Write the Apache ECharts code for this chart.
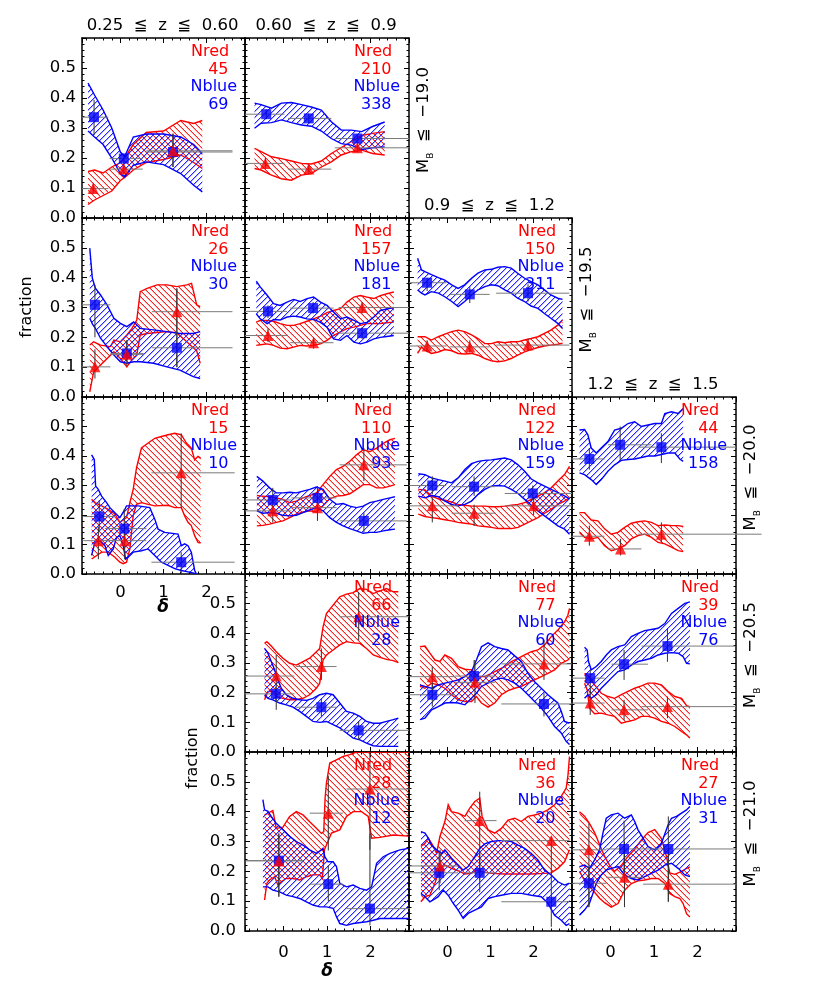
<!DOCTYPE html>
<html><head><meta charset="utf-8">
<script src="https://cdn.jsdelivr.net/npm/echarts@6/dist/echarts.min.js"></script>
<style>html,body{margin:0;padding:0;background:#fff}#c{width:817px;height:992px}</style>
</head><body><div id="c"></div>
<script>
// ---------------- labels ----------------
const zBinLabels = ['0.25  ≦  z  ≦  0.60', '0.60  ≦  z  ≦  0.9', '0.9  ≦  z  ≦  1.2', '1.2  ≦  z  ≦  1.5'];
const magLimits = ['−19.0', '−19.5', '−20.0', '−20.5', '−21.0'];
const panelRows = [0,0,1,1,1,2,2,2,2,3,3,3,4,4,4];
const panelCols = [0,1,0,1,2,0,1,2,3,1,2,3,1,2,3];
const nRed  = [45,210,26,157,150,15,110,122,44,66,77,39,28,36,27];
const nBlue = [69,338,30,181,311,10,93,159,158,28,60,76,12,20,31];

// points: [delta, fraction, binLo, binHi, errLo, errHi]
// ---------------- r0c0 ----------------
const r0c0X = [-0.75,-0.6,-0.4,-0.2,0.0,0.1,0.3,0.6,1.0,1.4,1.7,1.9];
const r0c0BlueHi = [0.45,0.41,0.36,0.30,0.22,0.205,0.27,0.28,0.28,0.27,0.245,0.215];
const r0c0BlueLo = [0.29,0.27,0.245,0.20,0.148,0.137,0.176,0.187,0.178,0.148,0.109,0.087];
const r0c0RedHi = [0.155,0.16,0.15,0.17,0.185,0.2,0.245,0.285,0.29,0.325,0.315,0.325];
const r0c0RedLo = [0.045,0.06,0.075,0.09,0.125,0.135,0.16,0.185,0.195,0.21,0.185,0.165];
const r0c0BluePts = [[-0.61,0.336,-0.89,-0.28,0.277,0.394],[0.08,0.198,-0.25,0.52,0.18,0.215],[1.22,0.22,0.6,2.6,0.17,0.282]];
const r0c0RedPts = [[-0.63,0.098,-0.89,-0.28,0.08,0.115],[0.08,0.163,-0.25,0.52,0.145,0.18],[1.22,0.224,0.6,2.6,0.17,0.28]];
// ---------------- r0c1 ----------------
const r0c1X = [-0.67,-0.52,-0.28,-0.05,0.18,0.41,0.64,0.87,1.1,1.33,1.56,1.8,2.05,2.33];
const r0c1BlueHi = [0.383,0.378,0.366,0.383,0.385,0.378,0.37,0.36,0.321,0.293,0.293,0.288,0.305,0.32];
const r0c1BlueLo = [0.299,0.316,0.318,0.327,0.318,0.31,0.306,0.29,0.265,0.248,0.243,0.228,0.234,0.237];
const r0c1RedHi = [0.232,0.221,0.204,0.198,0.19,0.182,0.18,0.19,0.215,0.235,0.255,0.275,0.282,0.288];
const r0c1RedLo = [0.165,0.16,0.143,0.131,0.126,0.143,0.148,0.17,0.187,0.21,0.221,0.226,0.215,0.21];
const r0c1BluePts = [[-0.4,0.346,-0.89,0.02,0.33,0.362],[0.58,0.332,0.1,1.1,0.316,0.348],[1.7,0.265,1.18,2.89,0.25,0.28]];
const r0c1RedPts = [[-0.42,0.182,-0.89,0.02,0.165,0.2],[0.58,0.163,0.1,1.1,0.148,0.178],[1.7,0.234,1.18,2.89,0.218,0.25]];
// ---------------- r1c0 ----------------
const r1c0BlueX = [-0.71,-0.65,-0.58,-0.46,-0.31,-0.15,0,0.15,0.31,0.46,0.77,1.08,1.38,1.69,1.85];
const r1c0BlueHi = [0.499,0.398,0.365,0.342,0.309,0.264,0.247,0.236,0.252,0.23,0.225,0.219,0.213,0.213,0.219];
const r1c0BlueLo = [0.264,0.245,0.23,0.197,0.169,0.141,0.118,0.113,0.118,0.118,0.113,0.101,0.09,0.068,0.062];
const r1c0RedX = [-0.71,-0.62,-0.46,-0.23,-0.15,0,0.15,0.27,0.38,0.46,0.62,0.85,1.08,1.31,1.54,1.65,1.77,1.85];
const r1c0RedHi = [0.174,0.185,0.174,0.169,0.191,0.185,0.208,0.23,0.258,0.353,0.364,0.376,0.376,0.37,0.376,0.381,0.309,0.303];
const r1c0RedLo = [0.017,0.084,0.107,0.14,0.152,0.129,0.101,0.125,0.141,0.208,0.213,0.216,0.219,0.215,0.185,0.17,0.155,0.113];
const r1c0BluePts = [[-0.59,0.309,-0.89,-0.23,0.2,0.375],[0.15,0.146,-0.23,0.54,0.12,0.19],[1.31,0.165,0.73,2.6,0.1,0.364]];
const r1c0RedPts = [[-0.59,0.101,-0.89,-0.23,0.062,0.16],[0.15,0.143,-0.23,0.54,0.105,0.19],[1.31,0.286,0.73,2.6,0.1,0.364]];
// ---------------- r1c1 ----------------
const r1c1X = [-0.63,-0.54,-0.38,-0.23,-0.08,0.08,0.23,0.38,0.54,0.69,0.85,1.0,1.15,1.31,1.46,1.62,1.77,1.92,2.08,2.23,2.38,2.54];
const r1c1BlueHi = [0.388,0.369,0.341,0.313,0.307,0.318,0.327,0.32,0.33,0.335,0.318,0.307,0.285,0.262,0.268,0.257,0.246,0.25,0.268,0.29,0.295,0.3];
const r1c1BlueLo = [0.279,0.262,0.246,0.26,0.258,0.268,0.271,0.268,0.262,0.26,0.25,0.234,0.195,0.19,0.206,0.184,0.178,0.184,0.195,0.2,0.203,0.206];
const r1c1RedHi = [0.251,0.257,0.257,0.254,0.246,0.24,0.24,0.246,0.254,0.262,0.271,0.283,0.29,0.296,0.318,0.335,0.34,0.335,0.33,0.34,0.346,0.352];
const r1c1RedLo = [0.173,0.175,0.178,0.173,0.164,0.162,0.167,0.173,0.171,0.173,0.178,0.19,0.206,0.218,0.229,0.234,0.24,0.246,0.246,0.246,0.249,0.251];
const r1c1BluePts = [[-0.36,0.287,-0.89,0.08,0.265,0.307],[0.68,0.298,0.15,1.15,0.28,0.318],[1.81,0.214,1.27,2.89,0.195,0.235]];
const r1c1RedPts = [[-0.36,0.206,-0.89,0.08,0.184,0.23],[0.69,0.182,0.15,1.15,0.162,0.2],[1.81,0.3,1.27,2.89,0.28,0.318]];
// ---------------- r1c2 ----------------
const r1c2X = [-0.69,-0.6,-0.52,-0.37,-0.21,-0.06,0.1,0.25,0.4,0.56,0.71,0.87,1.02,1.17,1.33,1.48,1.63,1.79,1.94,2.1,2.25,2.4,2.56,2.67];
const r1c2BlueHi = [0.465,0.426,0.42,0.41,0.4,0.392,0.376,0.364,0.376,0.398,0.415,0.426,0.428,0.435,0.437,0.432,0.415,0.398,0.387,0.376,0.359,0.342,0.331,0.327];
const r1c2BlueLo = [0.359,0.348,0.342,0.353,0.348,0.336,0.32,0.303,0.32,0.342,0.359,0.37,0.376,0.373,0.359,0.348,0.331,0.32,0.305,0.297,0.28,0.264,0.247,0.23];
const r1c2RedHi = [0.202,0.202,0.202,0.191,0.202,0.211,0.219,0.224,0.219,0.208,0.196,0.179,0.179,0.185,0.182,0.185,0.185,0.191,0.196,0.202,0.213,0.224,0.241,0.258];
const r1c2RedLo = [0.146,0.168,0.157,0.146,0.151,0.159,0.155,0.146,0.144,0.146,0.14,0.129,0.121,0.118,0.121,0.129,0.14,0.151,0.159,0.166,0.171,0.174,0.177,0.18];
const r1c2BluePts = [[-0.47,0.383,-0.89,-0.02,0.355,0.4],[0.52,0.344,0.06,0.98,0.315,0.37],[1.87,0.348,1.13,2.83,0.32,0.378]];
const r1c2RedPts = [[-0.47,0.171,-0.89,-0.02,0.15,0.19],[0.52,0.168,0.06,0.98,0.15,0.19],[1.87,0.174,1.13,2.83,0.155,0.195]];
// ---------------- r2c0 ----------------
const r2c0BlueHiX = [-0.667,-0.605,-0.574,-0.513,-0.435,-0.32,-0.243,-0.127,-0.012,0.104,0.143,0.412,0.682,0.798,0.875,1.029,1.337,1.414,1.491,1.568,1.645,1.723,1.761];
const r2c0BlueHi = [0.404,0.388,0.298,0.287,0.264,0.242,0.225,0.208,0.191,0.219,0.231,0.231,0.225,0.186,0.152,0.141,0.135,0.096,0.102,0.096,0.074,0.012,0.001];
const r2c0BlueLoX = [-0.667,-0.59,-0.474,-0.358,-0.281,-0.166,-0.089,-0.012,0.066,0.119,0.181,0.297,0.489,0.644,0.798,0.952,1.106,1.26,1.414,1.568,1.761];
const r2c0BlueLo = [0.063,0.107,0.113,0.096,0.063,0.085,0.124,0.13,0.096,0.051,0.057,0.074,0.079,0.085,0.063,0.04,0.029,0.018,0.012,0.007,0.001];
const r2c0RedHiX = [-0.667,-0.59,-0.435,-0.281,-0.127,-0.012,0.066,0.143,0.22,0.297,0.374,0.489,0.644,0.798,0.952,1.106,1.26,1.414,1.53,1.645,1.723,1.8,1.861];
const r2c0RedHi = [0.253,0.242,0.231,0.219,0.203,0.175,0.183,0.191,0.242,0.287,0.36,0.427,0.444,0.46,0.466,0.472,0.477,0.472,0.444,0.427,0.387,0.399,0.393];
const r2c0RedLoX = [-0.667,-0.435,-0.281,-0.127,-0.012,0.066,0.143,0.22,0.297,0.374,0.489,0.644,0.798,1.106,1.26,1.414,1.491,1.568,1.645,1.723,1.8,1.861];
const r2c0RedLo = [0.051,0.074,0.074,0.057,0.04,0.035,0.04,0.085,0.197,0.236,0.242,0.236,0.231,0.233,0.225,0.225,0.197,0.175,0.164,0.13,0.107,0.105];
const r2c0BluePts = [[-0.49,0.195,-0.86,-0.13,0.15,0.25],[0.09,0.154,-0.36,0.6,0.12,0.22],[1.41,0.04,0.72,2.65,0.0,0.074]];
const r2c0RedPts = [[-0.51,0.113,-0.86,-0.13,0.05,0.16],[0.1,0.113,-0.36,0.6,0.05,0.17],[1.41,0.343,0.72,2.65,0.225,0.477]];
// ---------------- r2c1 ----------------
const r2c1X = [-0.617,-0.478,-0.324,-0.17,-0.015,0.139,0.293,0.447,0.601,0.755,0.909,1.064,1.218,1.372,1.526,1.68,1.834,1.988,2.143,2.297,2.451,2.566];
const r2c1BlueHi = [0.331,0.315,0.292,0.275,0.275,0.277,0.275,0.281,0.287,0.295,0.287,0.253,0.236,0.239,0.23,0.225,0.23,0.242,0.247,0.253,0.258,0.262];
const r2c1BlueLo = [0.214,0.206,0.208,0.206,0.199,0.197,0.199,0.208,0.217,0.225,0.214,0.191,0.175,0.163,0.154,0.146,0.138,0.141,0.141,0.146,0.15,0.152];
const r2c1RedHi = [0.266,0.264,0.262,0.258,0.253,0.242,0.247,0.258,0.266,0.275,0.303,0.331,0.354,0.365,0.382,0.404,0.421,0.415,0.427,0.443,0.455,0.46];
const r2c1RedLo = [0.163,0.165,0.169,0.175,0.18,0.191,0.203,0.21,0.214,0.21,0.231,0.255,0.264,0.266,0.272,0.287,0.303,0.303,0.292,0.292,0.298,0.303];
const r2c1BluePts = [[-0.25,0.251,-0.89,0.18,0.225,0.292],[0.78,0.258,0.18,1.22,0.235,0.298],[1.85,0.18,1.29,2.84,0.141,0.208]];
const r2c1RedPts = [[-0.25,0.214,-0.89,0.18,0.175,0.235],[0.78,0.225,0.18,1.22,0.18,0.245],[1.85,0.37,1.29,2.84,0.315,0.427]];
// ---------------- r2c2 ----------------
const r2c2X = [-0.674,-0.52,-0.366,-0.212,-0.058,0.096,0.25,0.405,0.559,0.713,0.867,1.021,1.175,1.329,1.484,1.638,1.792,1.946,2.1,2.254,2.408,2.563,2.717,2.832];
const r2c2BlueHi = [0.34,0.337,0.326,0.32,0.315,0.309,0.326,0.354,0.374,0.382,0.385,0.387,0.39,0.393,0.387,0.37,0.348,0.322,0.309,0.298,0.287,0.276,0.265,0.255];
const r2c2BlueLo = [0.264,0.258,0.266,0.262,0.247,0.236,0.231,0.236,0.247,0.27,0.287,0.298,0.3,0.298,0.287,0.273,0.253,0.233,0.214,0.197,0.18,0.163,0.152,0.135];
const r2c2RedHi = [0.287,0.285,0.264,0.255,0.25,0.244,0.236,0.233,0.23,0.23,0.23,0.228,0.228,0.23,0.233,0.236,0.242,0.253,0.264,0.276,0.292,0.315,0.337,0.365];
const r2c2RedLo = [0.203,0.195,0.191,0.188,0.184,0.18,0.175,0.172,0.169,0.163,0.161,0.158,0.154,0.154,0.154,0.158,0.169,0.18,0.191,0.206,0.219,0.236,0.247,0.258];
const r2c2BluePts = [[-0.35,0.3,-0.89,-0.03,0.27,0.331],[0.62,0.296,0.1,1.1,0.265,0.331],[1.98,0.273,1.33,2.89,0.25,0.3]];
const r2c2RedPts = [[-0.35,0.231,-0.89,0.25,0.175,0.26],[0.62,0.206,0.1,1.1,0.163,0.235],[2.0,0.231,1.33,2.89,0.2,0.26]];
// ---------------- r2c3 ----------------
const r2c3BlueHiX = [-0.717,-0.601,-0.524,-0.447,-0.331,-0.216,-0.062,0.092,0.247,0.401,0.555,0.709,0.863,1.017,1.171,1.249,1.403,1.557,1.672];
const r2c3BlueHi = [0.488,0.49,0.472,0.427,0.41,0.427,0.449,0.488,0.494,0.51,0.516,0.5,0.505,0.51,0.51,0.544,0.55,0.544,0.561];
const r2c3BlueLoX = [-0.717,-0.601,-0.447,-0.331,-0.216,-0.062,0.092,0.247,0.401,0.555,0.709,0.863,1.017,1.171,1.326,1.48,1.595,1.672];
const r2c3BlueLo = [0.343,0.337,0.32,0.303,0.32,0.348,0.37,0.385,0.388,0.39,0.395,0.4,0.4,0.405,0.41,0.41,0.39,0.382];
const r2c3RedX = [-0.717,-0.601,-0.447,-0.293,-0.139,0.015,0.17,0.324,0.478,0.632,0.786,0.94,1.094,1.249,1.403,1.557,1.672];
const r2c3RedHi = [0.208,0.208,0.183,0.18,0.153,0.135,0.141,0.158,0.172,0.177,0.18,0.175,0.164,0.166,0.164,0.164,0.161];
const r2c3RedLo = [0.141,0.124,0.119,0.124,0.096,0.079,0.085,0.096,0.119,0.13,0.135,0.124,0.107,0.102,0.091,0.079,0.076];
const r2c3BluePts = [[-0.49,0.39,-0.9,-0.14,0.354,0.427],[0.22,0.438,-0.06,0.94,0.387,0.5],[1.17,0.43,0.63,2.89,0.376,0.477]];
const r2c3RedPts = [[-0.49,0.128,-0.9,-0.14,0.096,0.164],[0.23,0.085,-0.06,0.71,0.063,0.119],[1.17,0.135,0.63,3.48,0.107,0.175]];
// ---------------- r3c1 ----------------
const r3c1BlueHiX = [-0.439,-0.362,-0.285,-0.208,-0.131,-0.054,0.062,0.216,0.37,0.524,0.678,0.832,0.987,1.141,1.295,1.449,1.603,1.757,1.911,2.066,2.22,2.374,2.528,2.644];
const r3c1BlueHi = [0.349,0.333,0.305,0.277,0.243,0.215,0.193,0.181,0.176,0.174,0.181,0.193,0.198,0.193,0.165,0.137,0.131,0.12,0.103,0.097,0.097,0.103,0.109,0.114];
const r3c1BlueLoX = [-0.439,-0.362,-0.247,-0.092,0.062,0.216,0.37,0.524,0.678,0.832,0.987,1.141,1.295,1.449,1.603,1.757,1.911,2.066,2.22,2.644];
const r3c1BlueLo = [0.193,0.181,0.176,0.165,0.159,0.151,0.137,0.12,0.103,0.1,0.103,0.092,0.081,0.064,0.047,0.041,0.03,0.021,0.019,0.019];
const r3c1RedHiX = [-0.439,-0.385,-0.285,-0.17,-0.015,0.139,0.293,0.447,0.601,0.755,0.832,0.909,0.987,1.141,1.295,1.449,1.603,1.757,1.911,2.066,2.22,2.374,2.528,2.644];
const r3c1RedHi = [0.366,0.372,0.357,0.338,0.316,0.299,0.293,0.305,0.316,0.338,0.349,0.422,0.467,0.495,0.523,0.532,0.537,0.551,0.548,0.534,0.543,0.551,0.54,0.54];
const r3c1RedLoX = [-0.439,-0.362,-0.247,-0.17,-0.015,0.139,0.293,0.447,0.601,0.755,0.832,0.909,0.987,1.141,1.295,1.449,1.603,1.757,1.911,2.066,2.22,2.374,2.528,2.644];
const r3c1RedLo = [0.176,0.204,0.204,0.187,0.181,0.176,0.176,0.181,0.193,0.215,0.232,0.31,0.327,0.344,0.361,0.372,0.368,0.366,0.349,0.327,0.319,0.312,0.308,0.301];
const r3c1BluePts = [[-0.18,0.196,-0.9,0.25,0.17,0.22],[0.87,0.151,0.29,1.22,0.12,0.181],[1.73,0.073,1.29,2.89,0.041,0.103]];
const r3c1RedPts = [[-0.17,0.256,-0.9,0.25,0.142,0.327],[0.87,0.288,0.29,1.22,0.243,0.349],[1.73,0.456,1.29,2.89,0.377,0.54]];
// ---------------- r3c2 ----------------
const r3c2BlueHiX = [-0.636,-0.52,-0.366,-0.212,-0.058,0.096,0.25,0.405,0.559,0.674,0.79,0.944,1.098,1.252,1.407,1.561,1.715,1.869,2.023,2.177,2.331,2.486,2.563,2.64,2.717,2.832];
const r3c2BlueHi = [0.226,0.221,0.215,0.226,0.232,0.237,0.243,0.254,0.271,0.31,0.355,0.368,0.355,0.349,0.344,0.324,0.305,0.265,0.237,0.215,0.193,0.174,0.165,0.137,0.103,0.097];
const r3c2BlueLoX = [-0.636,-0.52,-0.366,-0.212,-0.058,0.096,0.25,0.405,0.559,0.674,0.79,0.944,1.098,1.252,1.407,1.561,1.715,1.869,2.023,2.177,2.331,2.486,2.64,2.755,2.832];
const r3c2BlueLo = [0.109,0.114,0.142,0.153,0.165,0.167,0.165,0.159,0.181,0.198,0.221,0.232,0.243,0.249,0.243,0.232,0.215,0.193,0.17,0.148,0.12,0.086,0.064,0.036,0.025];
const r3c2RedHiX = [-0.636,-0.52,-0.405,-0.289,-0.173,-0.058,0.096,0.25,0.405,0.559,0.713,0.867,1.021,1.175,1.329,1.484,1.638,1.792,1.946,2.1,2.254,2.408,2.563,2.717,2.794,2.832];
const r3c2RedHi = [0.355,0.357,0.333,0.31,0.305,0.327,0.316,0.288,0.279,0.277,0.254,0.254,0.265,0.277,0.288,0.305,0.316,0.327,0.338,0.344,0.361,0.389,0.411,0.439,0.461,0.484];
const r3c2RedLoX = [-0.636,-0.52,-0.366,-0.212,-0.058,0.096,0.25,0.405,0.559,0.674,0.79,0.944,1.098,1.252,1.407,1.561,1.715,1.869,2.023,2.177,2.331,2.486,2.64,2.794,2.832];
const r3c2RedLo = [0.221,0.215,0.232,0.226,0.215,0.193,0.176,0.17,0.17,0.187,0.165,0.151,0.165,0.193,0.207,0.215,0.221,0.232,0.243,0.254,0.265,0.277,0.299,0.31,0.316];
const r3c2BluePts = [[-0.35,0.193,-0.9,0.18,0.153,0.23],[0.62,0.256,0.18,1.1,0.22,0.31],[2.24,0.162,1.25,2.89,0.12,0.198]];
const r3c2RedPts = [[-0.35,0.254,-0.9,0.18,0.2,0.288],[0.64,0.235,0.18,1.1,0.165,0.31],[2.24,0.297,1.25,2.89,0.243,0.377]];
// ---------------- r3c3 ----------------
const r3c3BlueHiX = [-0.601,-0.54,-0.509,-0.447,-0.331,-0.216,-0.1,0.015,0.17,0.324,0.478,0.632,0.786,0.94,1.094,1.249,1.403,1.557,1.711,1.827];
const r3c3BlueHi = [0.353,0.344,0.305,0.277,0.288,0.305,0.327,0.344,0.355,0.361,0.389,0.4,0.409,0.413,0.417,0.433,0.467,0.484,0.501,0.506];
const r3c3BlueLoX = [-0.601,-0.524,-0.447,-0.331,-0.216,-0.1,0.015,0.17,0.324,0.478,0.632,0.786,0.94,1.094,1.249,1.403,1.557,1.672,1.75,1.827];
const r3c3BlueLo = [0.181,0.193,0.181,0.193,0.215,0.232,0.249,0.271,0.277,0.293,0.305,0.31,0.316,0.327,0.333,0.335,0.333,0.321,0.299,0.297];
const r3c3RedHiX = [-0.601,-0.486,-0.37,-0.216,-0.062,0.092,0.247,0.401,0.555,0.709,0.863,1.017,1.171,1.326,1.48,1.634,1.75,1.827];
const r3c3RedHi = [0.265,0.254,0.226,0.198,0.187,0.181,0.193,0.204,0.215,0.223,0.232,0.232,0.226,0.204,0.187,0.181,0.156,0.153];
const r3c3RedLoX = [-0.601,-0.54,-0.486,-0.37,-0.216,-0.062,0.092,0.247,0.401,0.555,0.709,0.863,1.017,1.171,1.326,1.48,1.634,1.75,1.827];
const r3c3RedLo = [0.232,0.209,0.148,0.129,0.131,0.125,0.12,0.097,0.103,0.108,0.12,0.12,0.114,0.103,0.097,0.086,0.069,0.058,0.047];
const r3c3BluePts = [[-0.47,0.249,-0.9,-0.14,0.198,0.276],[0.31,0.296,0.02,0.86,0.243,0.344],[1.31,0.357,0.71,2.87,0.304,0.417]];
const r3c3RedPts = [[-0.47,0.165,-0.9,-0.14,0.125,0.21],[0.31,0.142,0.02,0.86,0.108,0.176],[1.31,0.153,0.71,2.89,0.114,0.187]];
// ---------------- r4c1 ----------------
const r4c1BlueHiX = [-0.478,-0.439,-0.362,-0.285,-0.17,-0.015,0.139,0.293,0.447,0.601,0.755,0.871,0.909,0.948,1.025,1.141,1.218,1.295,1.449,1.603,1.757,1.911,2.027,2.143,2.297,2.451,2.682,2.875];
const r4c1BlueHi = [0.44,0.406,0.401,0.384,0.361,0.339,0.317,0.3,0.288,0.272,0.26,0.272,0.277,0.249,0.232,0.232,0.216,0.16,0.148,0.154,0.143,0.137,0.148,0.227,0.249,0.26,0.272,0.277];
const r4c1BlueLoX = [-0.478,-0.362,-0.247,-0.092,0.062,0.216,0.37,0.524,0.678,0.832,0.987,1.141,1.218,1.295,1.449,1.603,1.911,2.066,2.22,2.875];
const r4c1BlueLo = [0.148,0.148,0.137,0.131,0.12,0.115,0.109,0.098,0.087,0.081,0.081,0.076,0.048,0.025,0.019,0.025,0.031,0.036,0.042,0.042];
const r4c1RedHiX = [-0.439,-0.362,-0.247,-0.17,-0.015,0.139,0.293,0.447,0.601,0.755,0.871,0.925,0.956,0.987,1.064,1.218,1.372,1.526,1.68,2.89];
const r4c1RedHi = [0.389,0.395,0.404,0.344,0.348,0.384,0.4,0.389,0.366,0.344,0.327,0.333,0.445,0.496,0.563,0.574,0.585,0.591,0.6,0.6];
const r4c1RedLoX = [-0.439,-0.385,-0.324,-0.208,-0.131,-0.054,0.062,0.216,0.37,0.524,0.678,0.832,0.894,0.94,1.102,1.295,1.449,1.603,1.796,1.95,2.027,2.22,2.528,2.875];
const r4c1RedLo = [0.104,0.16,0.171,0.182,0.154,0.165,0.176,0.176,0.171,0.182,0.188,0.188,0.176,0.272,0.328,0.339,0.384,0.4,0.4,0.384,0.311,0.314,0.322,0.318];
const r4c1BluePts = [[-0.11,0.236,-0.86,0.45,0.115,0.327],[1.03,0.157,0.6,1.37,0.1,0.22],[1.99,0.075,1.45,2.91,0.019,0.327]];
const r4c1RedPts = [[-0.11,0.235,-0.86,0.45,0.115,0.327],[1.03,0.395,0.6,1.37,0.27,0.52],[1.99,0.476,1.45,2.91,0.272,0.6]];
// ---------------- r4c2 ----------------
const r4c2BlueHiX = [-0.613,-0.52,-0.443,-0.366,-0.25,-0.135,-0.058,0.096,0.25,0.366,0.482,0.636,0.751,0.867,1.021,1.175,1.329,1.484,1.638,1.792,1.946,2.1,2.254,2.408,2.563,2.717,2.832];
const r4c2BlueHi = [0.333,0.328,0.311,0.288,0.272,0.26,0.272,0.244,0.221,0.204,0.216,0.249,0.277,0.292,0.3,0.303,0.303,0.3,0.288,0.277,0.26,0.238,0.204,0.188,0.165,0.154,0.16];
const r4c2BlueLoX = [-0.613,-0.52,-0.405,-0.328,-0.212,-0.096,0.019,0.135,0.25,0.366,0.482,0.636,0.79,0.944,1.098,1.252,1.484,1.715,1.946,2.177,2.331,2.486,2.64,2.755,2.832];
const r4c2BlueLo = [0.126,0.115,0.098,0.104,0.115,0.137,0.12,0.093,0.07,0.042,0.059,0.07,0.081,0.109,0.115,0.12,0.126,0.126,0.12,0.115,0.093,0.053,0.036,0.019,0.025];
const r4c2RedHiX = [-0.613,-0.52,-0.443,-0.366,-0.25,-0.173,-0.058,0.019,0.096,0.25,0.405,0.52,0.636,0.751,0.805,0.944,1.098,1.252,1.407,1.561,1.715,1.869,2.023,2.177,2.331,2.486,2.64,2.755,2.794,2.832];
const r4c2RedHi = [0.283,0.294,0.311,0.294,0.26,0.317,0.367,0.423,0.4,0.395,0.384,0.412,0.434,0.445,0.384,0.339,0.328,0.344,0.372,0.378,0.367,0.384,0.389,0.395,0.406,0.423,0.451,0.479,0.518,0.585];
const r4c2RedLoX = [-0.613,-0.52,-0.405,-0.289,-0.173,-0.058,0.096,0.25,0.405,0.559,0.674,0.79,1.021,1.329,1.638,1.946,2.254,2.408,2.563,2.717,2.832];
const r4c2RedLo = [0.098,0.115,0.12,0.16,0.21,0.221,0.21,0.202,0.191,0.193,0.204,0.199,0.193,0.191,0.191,0.191,0.193,0.195,0.21,0.232,0.272];
const r4c2BluePts = [[-0.19,0.195,-0.9,0.25,0.137,0.26],[0.75,0.195,0.4,1.14,0.13,0.26],[2.41,0.098,1.25,2.83,0.014,0.16]];
const r4c2RedPts = [[-0.17,0.218,-0.9,0.25,0.16,0.272],[0.75,0.37,0.4,1.14,0.17,0.467],[2.41,0.303,1.25,2.83,0.16,0.316]];
// ---------------- r4c3 ----------------
const r4c3BlueHiX = [-0.717,-0.601,-0.486,-0.37,-0.254,-0.177,-0.1,0.015,0.17,0.324,0.478,0.555,0.632,0.748,0.863,1.017,1.171,1.326,1.403,1.518,1.634,1.75,1.827];
const r4c3BlueHi = [0.216,0.221,0.21,0.238,0.272,0.328,0.378,0.389,0.395,0.378,0.389,0.367,0.339,0.311,0.283,0.272,0.294,0.356,0.378,0.384,0.395,0.406,0.417];
const r4c3BlueLoX = [-0.717,-0.601,-0.486,-0.408,-0.331,-0.216,-0.1,0.015,0.17,0.324,0.478,0.632,0.786,0.94,1.094,1.249,1.403,1.557,1.711,1.827];
const r4c3BlueLo = [0.053,0.07,0.093,0.126,0.16,0.188,0.204,0.21,0.216,0.188,0.176,0.171,0.182,0.193,0.204,0.221,0.227,0.21,0.188,0.182];
const r4c3RedHiX = [-0.717,-0.601,-0.486,-0.37,-0.254,-0.139,-0.023,0.092,0.247,0.401,0.555,0.709,0.863,1.017,1.171,1.287,1.364,1.48,1.634,1.75,1.827];
const r4c3RedHi = [0.4,0.385,0.36,0.33,0.29,0.25,0.22,0.2,0.22,0.25,0.275,0.305,0.33,0.34,0.31,0.25,0.195,0.19,0.2,0.21,0.215];
const r4c3RedLoX = [-0.717,-0.601,-0.486,-0.37,-0.254,-0.139,0.015,0.17,0.324,0.478,0.632,0.786,0.94,1.094,1.249,1.364,1.48,1.595,1.672,1.75,1.827];
const r4c3RedLo = [0.2,0.17,0.15,0.13,0.11,0.095,0.08,0.092,0.137,0.159,0.168,0.171,0.176,0.176,0.159,0.126,0.115,0.109,0.092,0.058,0.047];
const r4c3BluePts = [[-0.5,0.16,-0.9,-0.1,0.08,0.215],[0.31,0.275,-0.1,0.75,0.18,0.37],[1.33,0.275,0.75,2.9,0.098,0.384]];
const r4c3RedPts = [[-0.5,0.272,-0.9,-0.1,0.08,0.36],[0.32,0.18,-0.1,0.75,0.08,0.3],[1.33,0.157,0.75,2.9,0.098,0.272]];

// ---------------- assembly ----------------
const panelData = [
  {blue:[r0c0X,r0c0BlueHi,r0c0X,r0c0BlueLo], red:[r0c0X,r0c0RedHi,r0c0X,r0c0RedLo], bp:r0c0BluePts, rp:r0c0RedPts},
  {blue:[r0c1X,r0c1BlueHi,r0c1X,r0c1BlueLo], red:[r0c1X,r0c1RedHi,r0c1X,r0c1RedLo], bp:r0c1BluePts, rp:r0c1RedPts},
  {blue:[r1c0BlueX,r1c0BlueHi,r1c0BlueX,r1c0BlueLo], red:[r1c0RedX,r1c0RedHi,r1c0RedX,r1c0RedLo], bp:r1c0BluePts, rp:r1c0RedPts},
  {blue:[r1c1X,r1c1BlueHi,r1c1X,r1c1BlueLo], red:[r1c1X,r1c1RedHi,r1c1X,r1c1RedLo], bp:r1c1BluePts, rp:r1c1RedPts},
  {blue:[r1c2X,r1c2BlueHi,r1c2X,r1c2BlueLo], red:[r1c2X,r1c2RedHi,r1c2X,r1c2RedLo], bp:r1c2BluePts, rp:r1c2RedPts},
  {blue:[r2c0BlueHiX,r2c0BlueHi,r2c0BlueLoX,r2c0BlueLo], red:[r2c0RedHiX,r2c0RedHi,r2c0RedLoX,r2c0RedLo], bp:r2c0BluePts, rp:r2c0RedPts},
  {blue:[r2c1X,r2c1BlueHi,r2c1X,r2c1BlueLo], red:[r2c1X,r2c1RedHi,r2c1X,r2c1RedLo], bp:r2c1BluePts, rp:r2c1RedPts},
  {blue:[r2c2X,r2c2BlueHi,r2c2X,r2c2BlueLo], red:[r2c2X,r2c2RedHi,r2c2X,r2c2RedLo], bp:r2c2BluePts, rp:r2c2RedPts},
  {blue:[r2c3BlueHiX,r2c3BlueHi,r2c3BlueLoX,r2c3BlueLo], red:[r2c3RedX,r2c3RedHi,r2c3RedX,r2c3RedLo], bp:r2c3BluePts, rp:r2c3RedPts},
  {blue:[r3c1BlueHiX,r3c1BlueHi,r3c1BlueLoX,r3c1BlueLo], red:[r3c1RedHiX,r3c1RedHi,r3c1RedLoX,r3c1RedLo], bp:r3c1BluePts, rp:r3c1RedPts},
  {blue:[r3c2BlueHiX,r3c2BlueHi,r3c2BlueLoX,r3c2BlueLo], red:[r3c2RedHiX,r3c2RedHi,r3c2RedLoX,r3c2RedLo], bp:r3c2BluePts, rp:r3c2RedPts},
  {blue:[r3c3BlueHiX,r3c3BlueHi,r3c3BlueLoX,r3c3BlueLo], red:[r3c3RedHiX,r3c3RedHi,r3c3RedLoX,r3c3RedLo], bp:r3c3BluePts, rp:r3c3RedPts},
  {blue:[r4c1BlueHiX,r4c1BlueHi,r4c1BlueLoX,r4c1BlueLo], red:[r4c1RedHiX,r4c1RedHi,r4c1RedLoX,r4c1RedLo], bp:r4c1BluePts, rp:r4c1RedPts},
  {blue:[r4c2BlueHiX,r4c2BlueHi,r4c2BlueLoX,r4c2BlueLo], red:[r4c2RedHiX,r4c2RedHi,r4c2RedLoX,r4c2RedLo], bp:r4c2BluePts, rp:r4c2RedPts},
  {blue:[r4c3BlueHiX,r4c3BlueHi,r4c3BlueLoX,r4c3BlueLo], red:[r4c3RedHiX,r4c3RedHi,r4c3RedLoX,r4c3RedLo], bp:r4c3BluePts, rp:r4c3RedPts}
];

// ---------------- layout / style ----------------
const FONT = '"DejaVu Sans", "Liberation Sans", sans-serif';
const RED = '#ff0000', BLUE = '#0000ff';
const COL_LEFT = [82, 245, 409, 572, 736];
const ROW_TOP = [38, 218, 397, 574, 752, 931];
const X_MIN = -0.89, X_MAX = 2.89;

// diagonal hatch tiles: a solid 1-px diagonal plus a faint neighbour for a soft ~1.4px line
function hatch(rgb, forward) {
  const s = 6;
  const cv = document.createElement('canvas');
  cv.width = s; cv.height = s;
  const g = cv.getContext('2d');
  for (let k = 0; k < s; k++) {
    const y = forward ? s - 1 - k : k;
    g.fillStyle = 'rgba(' + rgb + ',1)';
    g.fillRect(k, y, 1, 1);
    g.fillStyle = 'rgba(' + rgb + ',0.35)';
    g.fillRect(k, (y + 1) % s, 1, 1);
  }
  return cv;
}
const redHatch = {image: hatch('255,30,30', false), repeat: 'repeat'};
const blueHatch = {image: hatch('40,40,255', true), repeat: 'repeat'};

function bandSeries(i, b, color, pattern) {
  const [hx, hy, lx, ly] = b;
  const data = [];
  hx.forEach((x, k) => data.push([x, hy[k], 0]));
  lx.forEach((x, k) => data.push([x, ly[k], 1]));
  return {
    type: 'custom', xAxisIndex: 2 * i, yAxisIndex: 2 * i, data, clip: true, silent: true, z: 1,
    encode: {x: 0, y: 1},
    renderItem(params, api) {
      if (params.dataIndexInside !== 0) return null;
      const up = [], lo = [];
      for (let k = 0; k < params.dataInsideLength; k++) {
        const p = api.coord([api.value(0, k), api.value(1, k)]);
        (api.value(2, k) === 0 ? up : lo).push(p);
      }
      const ring = up.concat(lo.slice().reverse());
      return {type: 'group', children: [
        {type: 'polygon', shape: {points: ring}, style: {fill: pattern, stroke: null}},
        {type: 'polyline', shape: {points: up}, style: {stroke: color, lineWidth: 1.4, fill: null}},
        {type: 'polyline', shape: {points: lo}, style: {stroke: color, lineWidth: 1.4, fill: null}}
      ]};
    }
  };
}
function errSeries(i, pts) {
  return {
    type: 'custom', xAxisIndex: 2 * i, yAxisIndex: 2 * i, data: pts, clip: false, silent: true, z: 3,
    encode: {x: [0, 2, 3], y: [1, 4, 5]},
    renderItem(params, api) {
      const x = api.value(0), y = api.value(1);
      const a = api.coord([api.value(2), y]), b = api.coord([api.value(3), y]);
      const c = api.coord([x, api.value(4)]), d = api.coord([x, api.value(5)]);
      return {type: 'group', children: [
        {type: 'line', shape: {x1: a[0], y1: a[1], x2: b[0], y2: b[1]}, style: {stroke: '#7a7a7a', lineWidth: 1}},
        {type: 'line', shape: {x1: c[0], y1: c[1], x2: d[0], y2: d[1]}, style: {stroke: '#333', lineWidth: 1}}
      ]};
    }
  };
}

const grids = [], xAxes = [], yAxes = [], series = [], graphics = [];
const axisLine = {show: true, onZero: false, lineStyle: {color: '#000', width: 1.5}};
const majorTick = {show: true, inside: true, length: 5, lineStyle: {color: '#000', width: 1}};

panelData.forEach((p, i) => {
  const r = panelRows[i], c = panelCols[i];
  const L = COL_LEFT[c], W = COL_LEFT[c + 1] - L, T = ROW_TOP[r], H = ROW_TOP[r + 1] - T;
  grids.push({left: L, top: T, width: W, height: H});
  const showX = (r === 2 && c === 0) || r === 4;
  const showY = (c === 0 && r <= 2) || (c === 1 && r >= 3);
  const xBase = {gridIndex: i, type: 'value', min: X_MIN, max: X_MAX, splitNumber: 4,
    axisLine, axisTick: majorTick, splitLine: {show: false},
    minorTick: {show: true, splitNumber: 5, length: 2.5, lineStyle: {color: '#000', width: 1}}};
  xAxes.push(Object.assign({}, xBase, {position: 'bottom', axisLabel: {show: showX, margin: r === 4 ? 13 : 10,
    fontFamily: FONT, fontSize: 16.5, color: '#000',
    formatter: v => Math.abs(v - Math.round(v)) < 1e-6 ? String(Math.round(v)) : ''}}));
  xAxes.push(Object.assign({}, xBase, {position: 'top', axisLabel: {show: false}}));
  const yBase = {gridIndex: i, type: 'value', min: 0, max: 0.6, interval: 0.1,
    axisLine, axisTick: majorTick, splitLine: {show: false},
    minorTick: {show: true, splitNumber: 5, length: 2.5, lineStyle: {color: '#000', width: 1}}};
  yAxes.push(Object.assign({}, yBase, {position: 'left', axisLabel: {show: showY, margin: c === 0 ? 6 : 9,
    fontFamily: FONT, fontSize: 16.5, color: '#000',
    formatter: v => v > 0.55 ? '' : v.toFixed(1)}}));
  yAxes.push(Object.assign({}, yBase, {position: 'right', axisLabel: {show: false}}));

  series.push(bandSeries(i, p.red, RED, redHatch));
  series.push(bandSeries(i, p.blue, BLUE, blueHatch));
  series.push(errSeries(i, p.bp));
  series.push(errSeries(i, p.rp));
  series.push({type: 'scatter', xAxisIndex: 2 * i, yAxisIndex: 2 * i, z: 4, silent: true,
    symbol: 'rect', symbolSize: 10, itemStyle: {color: BLUE}, data: p.bp.map(q => [q[0], q[1]])});
  series.push({type: 'scatter', xAxisIndex: 2 * i, yAxisIndex: 2 * i, z: 4, silent: true,
    symbol: 'triangle', symbolSize: 11, itemStyle: {color: RED}, data: p.rp.map(q => [q[0], q[1]])});

  const txt = (s, x, y, col, align) => graphics.push({type: 'text', x, y, z: 10,
    style: {text: s, fill: col, font: '16px ' + FONT, align, verticalAlign: 'middle', textAlign: align, textVerticalAlign: 'middle'}});
  txt('Nred', L + 109, T + 14, RED, 'left');
  txt(String(nRed[i]), L + 146.5, T + 31.5, RED, 'right');
  txt('Nblue', L + 108.5, T + 49, BLUE, 'left');
  txt(String(nBlue[i]), L + 146.5, T + 67, BLUE, 'right');
});

// column titles
const titleRow = [0, 0, 1, 2];
zBinLabels.forEach((s, c) => {
  graphics.push({type: 'text', x: (COL_LEFT[c] + COL_LEFT[c + 1]) / 2 - 1, y: ROW_TOP[titleRow[c]] - 12,
    style: {text: s, fill: '#000', font: '16.5px ' + FONT, align: 'center', verticalAlign: 'middle', textAlign: 'center', textVerticalAlign: 'middle'}});
});
// magnitude labels
const lastCol = [1, 2, 3, 3, 3];
magLimits.forEach((s, r) => {
  graphics.push({type: 'text', x: COL_LEFT[lastCol[r] + 1] + 15, y: (ROW_TOP[r] + ROW_TOP[r + 1]) / 2 - 8,
    rotation: Math.PI / 2,
    style: {text: '{m|M}{s|B}{m|  ≦  ' + s + '}', align: 'center', verticalAlign: 'middle', textAlign: 'center', textVerticalAlign: 'middle',
      rich: {m: {fontSize: 16.5, fontFamily: FONT, fill: '#000', color: '#000', lineHeight: 22},
             s: {fontSize: 9, fontFamily: FONT, fill: '#000', color: '#000', verticalAlign: 'bottom', lineHeight: 22}}}});
});
// axis titles
const rotTxt = (s, x, y) => graphics.push({type: 'text', x, y, rotation: Math.PI / 2,
  style: {text: s, fill: '#000', font: '16px ' + FONT, align: 'center', verticalAlign: 'middle', textAlign: 'center', textVerticalAlign: 'middle'}});
rotTxt('fraction', 27, 307);
rotTxt('fraction', 193, 758);
const deltaTxt = (x, y) => graphics.push({type: 'text', x, y,
  style: {text: 'δ', fill: '#000', font: 'italic bold 17px ' + FONT, align: 'center', verticalAlign: 'middle', textAlign: 'center', textVerticalAlign: 'middle'}});
deltaTxt(163, 608);
deltaTxt(327, 972);

const chart = echarts.init(document.getElementById('c'), null, {renderer: 'canvas'});
chart.setOption({
  animation: false, backgroundColor: '#fff',
  grid: grids, xAxis: xAxes, yAxis: yAxes, series, graphic: graphics
});
</script></body></html>
